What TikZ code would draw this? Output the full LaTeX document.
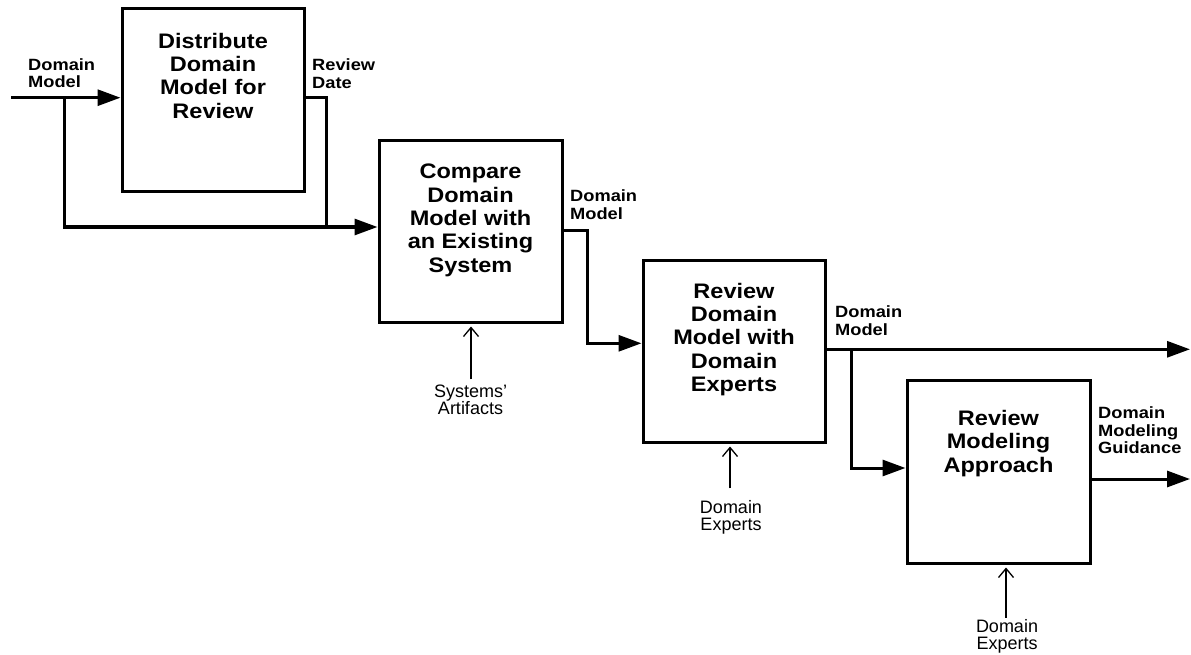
\documentclass[tikz,border=0pt]{standalone}
\usepackage{fontspec}
\setmainfont{Liberation Sans}
\newfontfamily\widesans{Liberation Sans}[FakeStretch=1.12]
\usetikzlibrary{arrows.meta}
\tikzset{
  box/.style={draw, line width=3pt, rectangle, inner sep=0pt},
  title/.style={font=\widesans\bfseries\fontsize{21}{23.3}\selectfont, align=center, inner sep=0pt, anchor=north},
  blab/.style={font=\widesans\bfseries\fontsize{16.3}{17.7}\selectfont, align=left, inner sep=0pt, anchor=north west},
  rlab/.style={font=\fontsize{18}{17}\selectfont, align=center, inner sep=0pt, anchor=north},
  flow/.style={line width=3pt, -{Triangle[length=23pt,width=16pt]}},
  plain/.style={line width=3pt},
  mech/.style={line width=1.3pt, -{Straight Barb[length=9pt,width=15pt]}, shorten >=3pt}
}
\begin{document}
\begin{tikzpicture}[x=1pt,y=-1pt]
\useasboundingbox (0,0) rectangle (1191,655);
% boxes
\node[box, minimum width=182pt, minimum height=183pt] (b1) at (213,100.5) {};
\node[box, minimum width=183pt, minimum height=181pt] (b2) at (470.5,231.5) {};
\node[box, minimum width=182pt, minimum height=182pt] (b3) at (734,351) {};
\node[box, minimum width=183pt, minimum height=183pt] (b4) at (998.5,471.5) {};
% titles
\node[title] (t1) at (213,32.7) {Distribute\\Domain\\Model for\\Review};
\node[title] (t2) at (470.5,164) {Compare\\Domain\\Model with\\an Existing\\System};
\node[title] (t3) at (734,282.7) {Review\\Domain\\Model with\\Domain\\Experts};
\node[title] (t4) at (998.5,410) {Review\\Modeling\\Approach};
% bold labels
\node[blab] (l1) at (28,58) {Domain\\Model};
\node[blab] (l2) at (312,58.8) {Review\\Date};
\node[blab] (l3) at (570,189.8) {Domain\\Model};
\node[blab] (l4) at (835,305.8) {Domain\\Model};
\node[blab] (l5) at (1098,406.4) {Domain\\Modeling\\Guidance};
% regular labels
\node[rlab] (m1) at (470.5,385.2) {Systems’\\Artifacts};
\node[rlab] (m2) at (731,500) {Domain\\Experts};
\node[rlab] (m3) at (1007,619) {Domain\\Experts};
% coordinates
\coordinate (in1) at (11,97.7);
\coordinate (j1) at (64,97.7);
\coordinate (k1) at (64,227);
\coordinate (rd) at (326,227);
\coordinate (c2) at (587,343.3);
\coordinate (o3) at (1190,349.3);
\coordinate (j3) at (851,349.3);
\coordinate (o4) at (1190,479);
\coordinate (s1) at (471,379.3);
\coordinate (s2) at (730,488.3);
\coordinate (s3) at (1006,617.7);
% flows
\draw[flow] (in1) -- (in1 -| b1.west);
\draw[flow] (j1) -- (k1) -- (k1 -| b2.west);
\draw[plain] (b1.east |- j1) -| (rd);
\draw[flow] (b2.east |- 0,230) -| (c2) -- (c2 -| b3.west);
\draw[flow] (b3.east |- o3) -- (o3);
\draw[flow] (j3) |- (b4.west |- 0,468);
\draw[flow] (b4.east |- o4) -- (o4);
% mechanisms
\draw[mech] (s1) -- (s1 |- b2.south);
\draw[mech] (s2) -- (s2 |- b3.south);
\draw[mech] (s3) -- (s3 |- b4.south);
\end{tikzpicture}
\end{document}
